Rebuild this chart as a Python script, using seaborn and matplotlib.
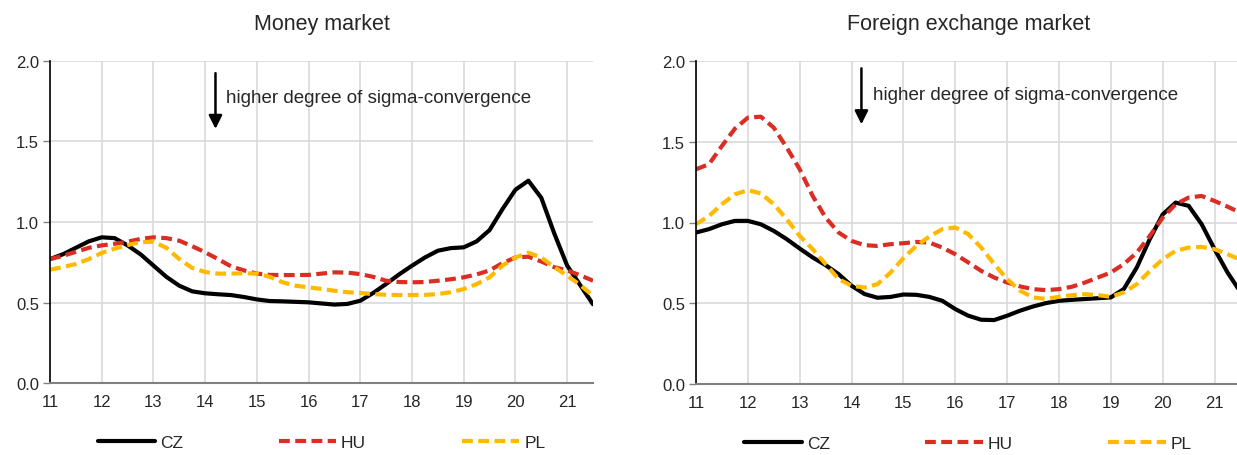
import numpy as np
import pandas as pd
import matplotlib
matplotlib.use("Agg")
import matplotlib.pyplot as plt
import seaborn as sns

# quarterly points
years = [11 + 0.25 * i for i in range(43)]
countries = ["CZ", "HU", "PL"]

mm_cz = [0.77, 0.80, 0.84, 0.88, 0.905, 0.90, 0.855, 0.80, 0.73, 0.66, 0.605, 0.57,
         0.558, 0.552, 0.547, 0.535, 0.52, 0.51, 0.508, 0.505, 0.502, 0.495, 0.488, 0.492,
         0.512, 0.56, 0.616, 0.675, 0.729, 0.78, 0.822, 0.838, 0.843, 0.88, 0.95, 1.08,
         1.20, 1.256, 1.15, 0.93, 0.73, 0.61, 0.49]
mm_hu = [0.77, 0.79, 0.815, 0.84, 0.855, 0.865, 0.878, 0.895, 0.905, 0.90, 0.884, 0.85,
         0.812, 0.77, 0.725, 0.70, 0.68, 0.672, 0.671, 0.671, 0.672, 0.68, 0.688, 0.686,
         0.677, 0.66, 0.636, 0.628, 0.626, 0.628, 0.636, 0.645, 0.657, 0.675, 0.70, 0.745,
         0.78, 0.785, 0.755, 0.72, 0.70, 0.67, 0.636]
mm_pl = [0.705, 0.72, 0.74, 0.77, 0.808, 0.835, 0.857, 0.875, 0.878, 0.84, 0.77, 0.715,
         0.69, 0.68, 0.68, 0.682, 0.68, 0.66, 0.626, 0.605, 0.595, 0.585, 0.574, 0.565,
         0.56, 0.553, 0.549, 0.547, 0.547, 0.548, 0.553, 0.565, 0.584, 0.615, 0.657, 0.73,
         0.78, 0.81, 0.78, 0.72, 0.667, 0.61, 0.543]

fx_cz = [0.938, 0.959, 0.989, 1.01, 1.01, 0.989, 0.948, 0.897, 0.839, 0.784, 0.736, 0.681,
         0.609, 0.558, 0.535, 0.54, 0.555, 0.553, 0.54, 0.516, 0.465, 0.424, 0.399, 0.397,
         0.424, 0.455, 0.481, 0.502, 0.516, 0.522, 0.527, 0.532, 0.537, 0.589, 0.722, 0.897,
         1.05, 1.123, 1.103, 0.99, 0.835, 0.691, 0.57]
fx_hu = [1.329, 1.36, 1.473, 1.58, 1.648, 1.654, 1.586, 1.463, 1.329, 1.164, 1.03, 0.938,
         0.886, 0.86, 0.855, 0.866, 0.872, 0.88, 0.876, 0.845, 0.804, 0.753, 0.701, 0.66,
         0.629, 0.605, 0.588, 0.582, 0.588, 0.603, 0.629, 0.66, 0.691, 0.743, 0.814, 0.917,
         1.03, 1.113, 1.154, 1.164, 1.133, 1.098, 1.06]
fx_pl = [0.989, 1.04, 1.113, 1.174, 1.2, 1.18, 1.113, 1.02, 0.917, 0.835, 0.743, 0.65,
         0.609, 0.598, 0.619, 0.69, 0.78, 0.856, 0.913, 0.959, 0.969, 0.928, 0.845, 0.743,
         0.65, 0.578, 0.537, 0.527, 0.541, 0.551, 0.557, 0.551, 0.541, 0.568, 0.619, 0.70,
         0.773, 0.825, 0.845, 0.849, 0.835, 0.804, 0.77]

panels = [("Money market", [mm_cz, mm_hu, mm_pl]),
          ("Foreign exchange market", [fx_cz, fx_hu, fx_pl])]

colors = {"CZ": "#000000", "HU": "#DA2D23", "PL": "#FFBA00"}
dashes = {"CZ": "", "HU": (2.6, 1.3), "PL": (2.6, 1.3)}

sns.set_theme(style="white")
plt.rcParams["font.family"] = ["Liberation Sans", "DejaVu Sans"]

fig = plt.figure(figsize=(12.37, 4.56), dpi=100)
ax_l = fig.add_axes([50 / 1237, 71.7 / 456, 543 / 1237, 322.6 / 456])
ax_r = fig.add_axes([696 / 1237, 70.7 / 456, 544.5 / 1237, 323.6 / 456])

for ax, (title, series) in zip([ax_l, ax_r], panels):
    df = pd.DataFrame({
        "year": years * 3,
        "value": series[0] + series[1] + series[2],
        "country": [c for c in countries for _ in years],
    })
    sns.lineplot(data=df, x="year", y="value", hue="country", style="country",
                 palette=colors, dashes=dashes, linewidth=3, legend=False, ax=ax)
    for ln in ax.get_lines():
        ln.set_solid_joinstyle("round")
        ln.set_dash_joinstyle("round")

    ax.set_xlim(11, 21.5)
    ax.set_ylim(0, 2.0)
    ax.set_xticks(range(11, 22))
    ax.set_yticks(np.arange(0, 2.01, 0.5))
    ax.set_yticklabels([f"{v:.1f}" for v in np.arange(0, 2.01, 0.5)])
    ax.set_xlabel("")
    ax.set_ylabel("")
    ax.grid(True, color="#D9D9D9", linewidth=1.2)
    ax.set_axisbelow(True)
    for s in ["top", "right"]:
        ax.spines[s].set_visible(False)
    ax.spines["left"].set_color("black")
    ax.spines["left"].set_linewidth(1.2)
    ax.spines["bottom"].set_color("#808080")
    ax.spines["bottom"].set_linewidth(1.5)
    ax.tick_params(axis="y", direction="out", length=5, width=1, color="#808080",
                   labelsize=12, pad=3, left=True)
    ax.tick_params(axis="x", length=0, labelsize=12, pad=8)

    ax.text(0.5, 1.115, title, transform=ax.transAxes, ha="center", va="center",
            fontsize=15.5)

    ax.legend(ax.get_lines()[:3], countries, loc="center", bbox_to_anchor=(0.5, -0.182),
              ncol=3, frameon=False, fontsize=12.5, handlelength=3.3,
              handletextpad=0.3, columnspacing=5.5)

ax_l.annotate("", xy=(14.2, 1.56), xytext=(14.2, 1.94),
              arrowprops=dict(arrowstyle="-|>", color="black", lw=1.8, mutation_scale=20))
ax_l.text(14.4, 1.77, "higher degree of sigma-convergence", ha="left", va="center", fontsize=13.5)
ax_r.annotate("", xy=(14.19, 1.59), xytext=(14.19, 1.97),
              arrowprops=dict(arrowstyle="-|>", color="black", lw=1.8, mutation_scale=20))
ax_r.text(14.42, 1.79, "higher degree of sigma-convergence", ha="left", va="center", fontsize=13.5)

fig.savefig("out.png", dpi=100)
plt.close(fig)
